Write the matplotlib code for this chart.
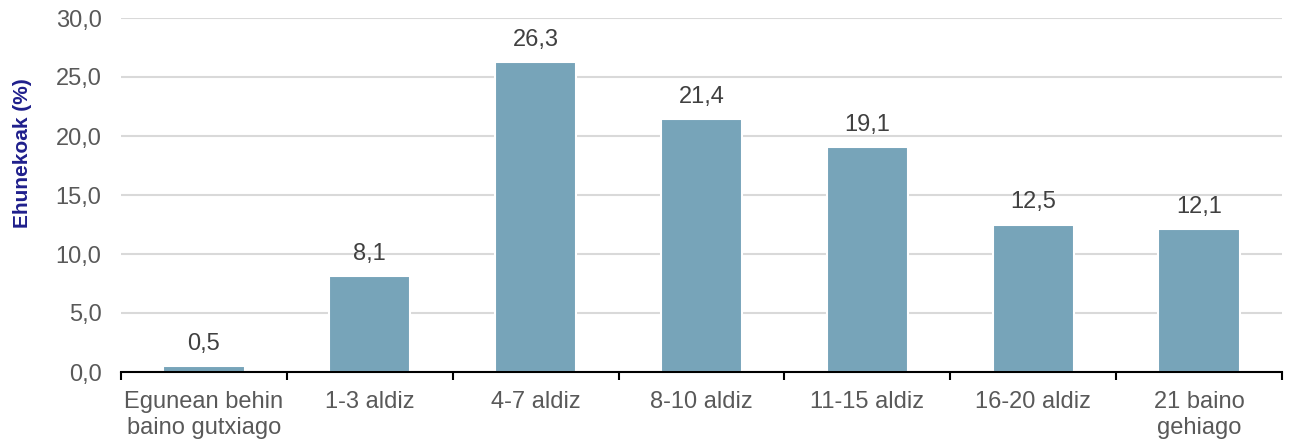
import matplotlib
matplotlib.use("Agg")
import matplotlib.pyplot as plt
import numpy as np

plt.rcParams["font.family"] = ["Liberation Sans", "DejaVu Sans"]

categories = ["Egunean behin\nbaino gutxiago", "1-3 aldiz", "4-7 aldiz", "8-10 aldiz",
              "11-15 aldiz", "16-20 aldiz", "21 baino\ngehiago"]
values = [0.5, 8.1, 26.3, 21.4, 19.1, 12.5, 12.1]
yticks = [0, 5, 10, 15, 20, 25, 30]

fig = plt.figure(figsize=(12.95, 4.43), dpi=100)
ax = fig.add_axes([121 / 1295, 1 - 372 / 443, (1282 - 121) / 1295, (372 - 18) / 443])

x = np.arange(len(categories))
bars = ax.bar(x, values, width=0.49, color="#77A4B9", edgecolor="white", linewidth=1.5, zorder=3)

for xi, v in zip(x, values):
    ax.annotate(f"{v:.1f}".replace(".", ","), (xi, v), xytext=(0, 8), textcoords="offset points",
                ha="center", va="bottom", fontsize=17, color="#404040")

ax.set_xlim(-0.5, len(categories) - 0.5)
ax.set_ylim(0, 30)
ax.set_yticks(yticks)
ax.set_yticklabels([f"{t:.1f}".replace(".", ",") for t in yticks], fontsize=17, color="#595959")
ax.set_xticks(x)
ax.set_xticklabels(categories, fontsize=17, color="#595959", linespacing=1.2)
ax.set_xticks(np.arange(len(categories) + 1) - 0.5, minor=True)
ax.tick_params(axis="x", which="major", length=0, pad=14)
ax.tick_params(axis="x", which="minor", length=6, width=1.5, color="black", direction="out")
ax.tick_params(axis="y", length=0, pad=14)

ax.grid(axis="y", color="#D9D9D9", linewidth=1.5, zorder=0)
ax.set_axisbelow(True)
for s in ["top", "right", "left"]:
    ax.spines[s].set_visible(False)
ax.spines["bottom"].set_color("black")
ax.spines["bottom"].set_linewidth(1.5)
ax.spines["bottom"].set_zorder(4)

ax.set_ylabel("Ehunekoak (%)", fontsize=15, fontweight="bold", color="#1F1F8C")
ax.yaxis.set_label_coords(-89 / (1282 - 121), 1 - (153 - 18) / 354)

fig.savefig("out.png", dpi=100, facecolor="white")
